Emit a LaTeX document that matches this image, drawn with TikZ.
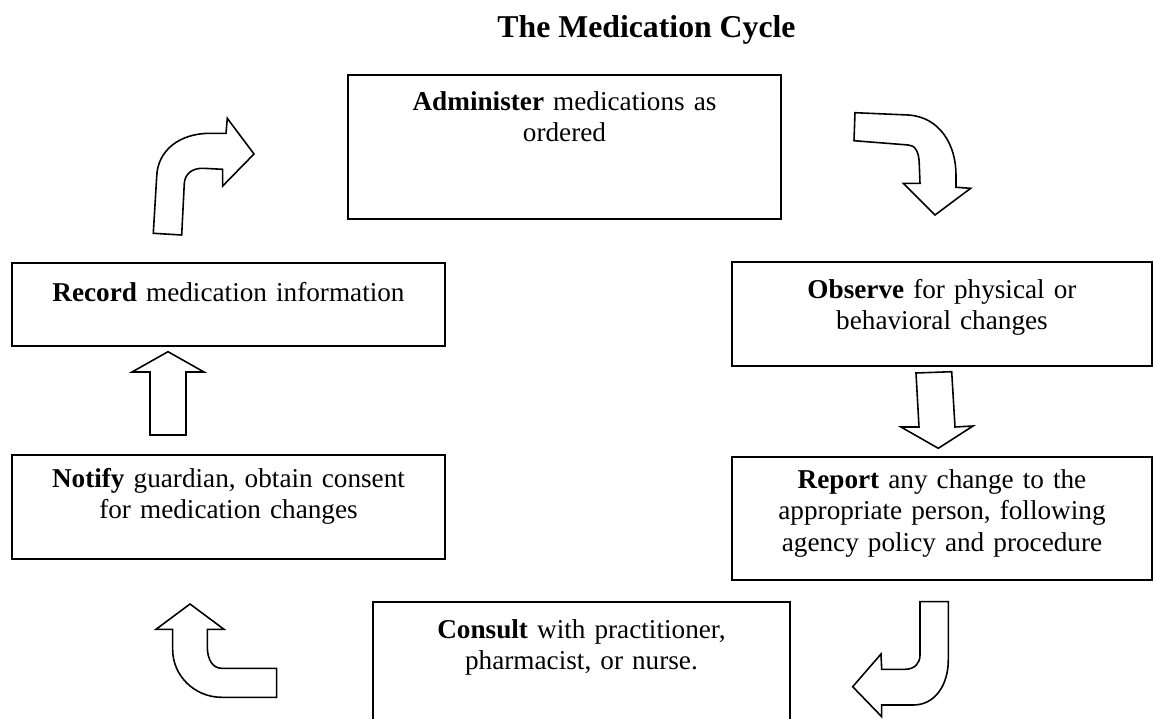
\documentclass[tikz,border=0pt]{standalone}
\usepackage{fontspec}
\setmainfont{Liberation Serif}
\usepackage{tikz}

\newlength\pxu
\setlength\pxu{0.441pt}

\tikzset{
  stagebox/.style={draw, line width=0.8pt, inner sep=0pt, outer sep=0pt,
    align=center, anchor=north west, font=\fontsize{12}{14.1}\selectfont},
  blockarrow/.style={draw, line width=0.7pt, fill=white},
}

\begin{document}
\begin{tikzpicture}[x=1\pxu, y=-1\pxu]
    %initialisation
    \useasboundingbox (0,0) rectangle (1154,719);
    \clip (0,0) rectangle (1154,719);
    %title
    \node (title) at (646.5,37) [anchor=base, font=\fontsize{14}{16}\selectfont\bfseries] {The Medication Cycle};
    %boxes
    \node[stagebox, text width=433\pxu, text height=35\pxu, text depth=109\pxu] (admin) at (348,75)
        {\textbf{Administer} medications as\\ordered};
    \node[stagebox, text width=420\pxu, text height=36\pxu, text depth=68\pxu] (observe) at (732,262)
        {\textbf{Observe} for physical or\\behavioral changes};
    \node[stagebox, text width=420\pxu, text height=31\pxu, text depth=92\pxu] (report) at (732,457)
        {\textbf{Report} any change to the\\appropriate person, following\\agency policy and procedure};
    \node[stagebox, text width=417\pxu, text height=36\pxu, text depth=112\pxu] (consult) at (373,602)
        {\textbf{Consult} with practitioner,\\pharmacist, or nurse.};
    \node[stagebox, text width=433\pxu, text height=32\pxu, text depth=72\pxu] (notify) at (12,455)
        {\textbf{Notify} guardian, obtain consent\\for medication changes};
    \node[stagebox, text width=433\pxu, text height=38\pxu, text depth=45\pxu] (record) at (12,263)
        {\textbf{Record} medication information};
    %arrows
    % record -> admin
    \draw[blockarrow] (153.3,233.3) -- (156.7,176.7) .. controls (157.5,150) and (180,133.3) .. (210,133.3)
        -- (226,133.3) -- (227.3,118.3) -- (254,154) -- (222.7,186) -- (222.7,169.3) -- (203.3,168.3)
        .. controls (192,168) and (185,174) .. (184.3,183.3) -- (181.7,235) -- cycle;
    % admin -> observe
    \draw[blockarrow] (855,112.7) -- (908.3,115) .. controls (940,117) and (956,145) .. (956,175)
        -- (956,187.3) -- (970.7,188.3) -- (935,215) -- (903.3,183.3) -- (920,183.3) -- (919.3,165)
        .. controls (919.3,152) and (915,145) .. (908.3,145) -- (854,140.7) -- cycle;
    % observe -> report
    \draw[blockarrow] (916,373) -- (951.7,371.7) -- (955,427) -- (973,426) -- (938.3,448.3)
        -- (901,427) -- (919,427) -- cycle;
    % report -> consult
    \draw[blockarrow] (920,601.7) -- (948.3,601.7) -- (948.3,660) .. controls (948.3,685) and (935,705) .. (913.3,705)
        -- (881.7,705) -- (881.7,716.7) -- (852.7,686.7) -- (881,654) -- (881.7,669.3) -- (905,669.3)
        .. controls (915,669.3) and (920,663) .. (920,655) -- cycle;
    % consult -> notify
    \draw[blockarrow] (276.7,697.3) -- (221.7,697.3) .. controls (194,697.3) and (172.7,675) .. (172.7,650)
        -- (172.7,629.3) -- (156,629.3) -- (190,604) -- (224,629.3) -- (207.3,629.3) -- (207.3,646.7)
        .. controls (207.3,660) and (213,668.3) .. (221.7,668.3) -- (276.7,668.3) -- cycle;
    % notify -> record
    \draw[blockarrow] (150,435) -- (150,372) -- (132,372) -- (168,351.7) -- (204,372) -- (186,372)
        -- (186,435) -- cycle;
\end{tikzpicture}
\end{document}
